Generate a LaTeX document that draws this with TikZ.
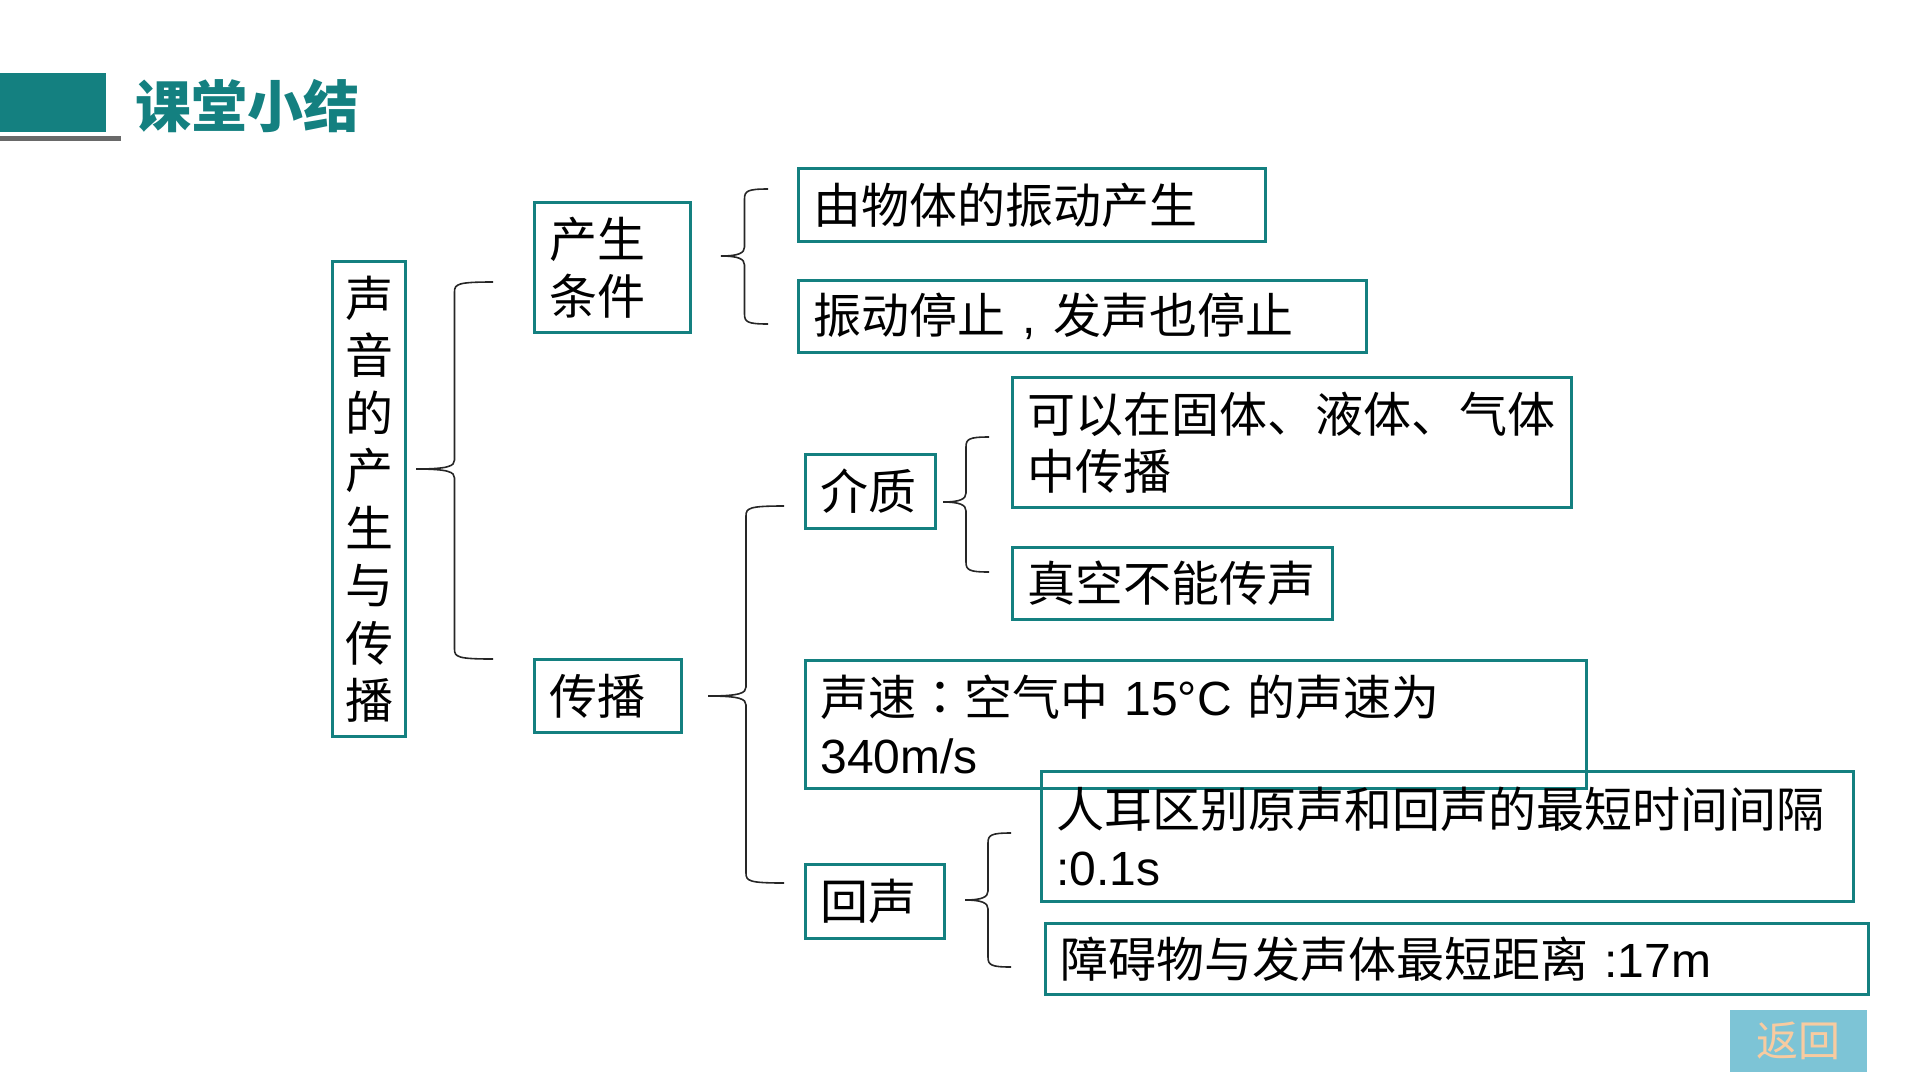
\documentclass[tikz,border=0pt]{standalone}
\usepackage{fontspec}
\setmainfont{Liberation Sans}
\newfontfamily\cjk{Noto Sans CJK SC}
\newfontfamily\cjkkr{Noto Sans CJK KR}
\newfontfamily\lat{Liberation Sans}
\usetikzlibrary{calc}
\definecolor{tealc}{RGB}{20,128,128}
\definecolor{grayline}{RGB}{105,105,105}
\definecolor{backfill}{RGB}{125,196,214}
\definecolor{backtext}{RGB}{248,203,160}
\tikzset{
  box/.style={draw=tealc, line width=3pt, anchor=north west, inner xsep=15pt, inner ysep=0pt,
    align=left, font=\cjk\fontsize{48}{57.5}\selectfont},
  brk/.style={draw=black!85, line width=1.6pt},
}
\newcommand\mybrace[3]{%
  \draw[brk] let \p1=(#1), \p2=(#2), \p3=(#3), \n1={(\x1+\x2)/2} in
    (\x2,\y2) .. controls ({\n1+3pt},{\y2}) and ({\n1},{\y2-2pt}) .. ({\n1},{\y2-10pt})
    -- ({\n1},{\y1+9pt}) .. controls ({\n1},{\y1+3pt}) and ({\n1-6pt},{\y1}) .. (\x1,\y1)
    .. controls ({\n1-6pt},{\y1}) and ({\n1},{\y1-3pt}) .. ({\n1},{\y1-9pt})
    -- ({\n1},{\y3+10pt}) .. controls ({\n1},{\y3+2pt}) and ({\n1+3pt},{\y3}) .. (\x3,\y3);
}
\begin{document}
\begin{tikzpicture}[x=1pt,y=-1pt]
\useasboundingbox (0,0) rectangle (1920,1080);
% title
\fill[tealc] (0,73) rectangle (106,132);
\fill[grayline] (0,135.5) rectangle (121,140.5);
\node[anchor=west, inner sep=0pt, text=tealc, font=\cjk\bfseries\fontsize{56}{60}\selectfont] (title) at (135,106) {课堂小结};

% nodes
\node[box, align=center, inner xsep=0pt, minimum width=73pt, minimum height=475pt, text width=73pt] (root) at (331,260)
  {声\\音\\的\\产\\生\\与\\传\\播};
\node[box, minimum width=156pt, minimum height=130pt, text width=126pt] (cond) at (533,201) {产生\\条件};
\node[box, minimum width=147pt, minimum height=73pt, text width=117pt] (prop) at (533,658) {传播};

\node[box, minimum width=467pt, minimum height=73pt, text width=437pt] (r1) at (797,167) {由物体的振动产生};
\node[box, minimum width=568pt, minimum height=72pt, text width=538pt] (r2) at (797,279) {振动停止\makebox[1em][c]{\lat ,}发声也停止};

\node[box, minimum width=130pt, minimum height=74pt, text width=100pt] (med) at (804,453) {介质};
\node[box, minimum width=559pt, minimum height=130pt, text width=529pt] (r3) at (1011,376) {可以在固体、液体、气体\\中传播};
\node[box, minimum width=320pt, minimum height=72pt, text width=290pt] (r4) at (1011,546) {真空不能传声};

\node[box, minimum width=781pt, minimum height=128pt, text width=751pt] (r5) at (804,659)
  {声速{\cjkkr ：}空气中 {\lat 15°C} 的声速为\\{\lat 340m/s}};

\node[box, minimum width=139pt, minimum height=74pt, text width=109pt] (echo) at (804,863) {回声};
\node[box, minimum width=812pt, minimum height=130pt, text width=782pt] (r6) at (1040,770)
  {人耳区别原声和回声的最短时间间隔\\{\lat :0.1s}};
\node[box, minimum width=823pt, minimum height=71pt, text width=793pt] (r7) at (1044,922)
  {障碍物与发声体最短距离 {\lat :17m}};

\node[anchor=north west, fill=backfill, minimum width=137pt, minimum height=62pt, inner sep=0pt,
  text=backtext, font=\cjk\fontsize{42}{46}\selectfont] (back) at (1730,1010) {返回};

% bracket coordinates
\coordinate (mainT) at (416,469);
\coordinate (mainA) at (493,282);
\coordinate (mainB) at (493,659);
\coordinate (condT) at (721,256);
\coordinate (condA) at (768,189);
\coordinate (condB) at (768,324);
\coordinate (propT) at (708,696);
\coordinate (propA) at (784,506);
\coordinate (propB) at (784,883);
\coordinate (medT) at (943,502);
\coordinate (medA) at (989,437);
\coordinate (medB) at (989,572);
\coordinate (echoT) at (965,900);
\coordinate (echoA) at (1011,833);
\coordinate (echoB) at (1011,967);

\mybrace{mainT}{mainA}{mainB}
\mybrace{condT}{condA}{condB}
\mybrace{propT}{propA}{propB}
\mybrace{medT}{medA}{medB}
\mybrace{echoT}{echoA}{echoB}
\end{tikzpicture}
\end{document}
